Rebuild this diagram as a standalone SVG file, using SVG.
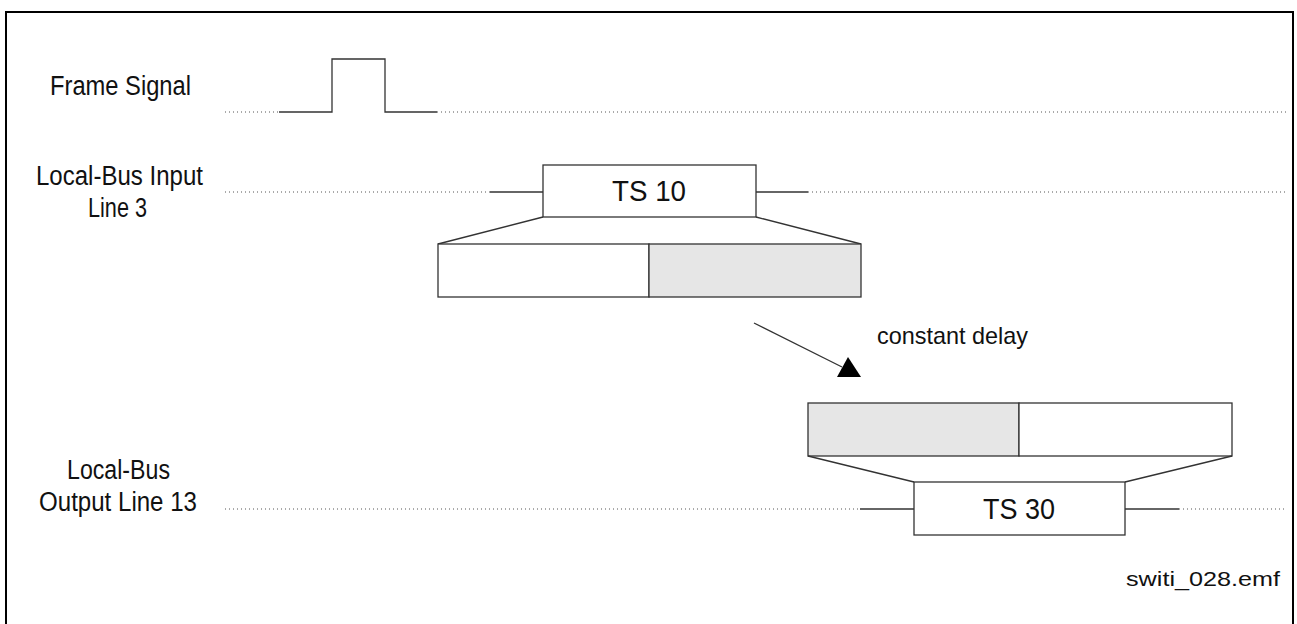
<svg xmlns="http://www.w3.org/2000/svg" width="1297" height="624" viewBox="0 0 1297 624">
<style>
text{font-family:"Liberation Sans",Arial,sans-serif;fill:#111;}
.lbl{font-size:27px;}
.ts{font-size:29px;}
.sm{font-size:24px;}
.fn{font-size:21px;}
.dot{stroke:#555;stroke-width:1;stroke-dasharray:1 3;fill:none;}
.sol{stroke:#333;stroke-width:1.3;fill:none;}
.box{stroke:#333;stroke-width:1.3;fill:#fff;}
.gray{stroke:#333;stroke-width:1.3;fill:#e6e6e6;}
</style>
<rect x="6" y="12" width="1287" height="700" fill="#fff" stroke="#000" stroke-width="2"/>
<g id="labels">
<text class="lbl" x="50" y="95" textLength="141" lengthAdjust="spacingAndGlyphs">Frame Signal</text>
<text class="lbl" x="36" y="185" textLength="167" lengthAdjust="spacingAndGlyphs">Local-Bus Input</text>
<text class="lbl" x="88" y="217" textLength="59" lengthAdjust="spacingAndGlyphs">Line 3</text>
<text class="lbl" x="67" y="479" textLength="103" lengthAdjust="spacingAndGlyphs">Local-Bus</text>
<text class="lbl" x="39" y="511" textLength="158" lengthAdjust="spacingAndGlyphs">Output Line 13</text>
<text class="sm" x="877" y="344" textLength="151" lengthAdjust="spacingAndGlyphs">constant delay</text>
<text class="fn" x="1126" y="586" textLength="154" lengthAdjust="spacingAndGlyphs">switi_028.emf</text>
</g>
<g id="frame-signal">
<line class="dot" x1="225" y1="112" x2="279" y2="112"/>
<path class="sol" d="M279,112 H332 V59 H385 V112 H437"/>
<line class="dot" x1="437" y1="112" x2="1287" y2="112"/>
</g>
<g id="input-line">
<line class="dot" x1="225" y1="192" x2="490" y2="192"/>
<line class="sol" x1="490" y1="192" x2="543" y2="192"/>
<line class="sol" x1="756" y1="192" x2="808" y2="192"/>
<line class="dot" x1="808" y1="192" x2="1287" y2="192"/>
</g>
<g id="ts10">
<rect class="box" x="543" y="165" width="213" height="52"/>
<text class="ts" x="649" y="201" text-anchor="middle" textLength="74" lengthAdjust="spacingAndGlyphs">TS 10</text>
</g>
<g id="ts10-expanded">
<path class="sol" d="M543,217 L438,244 M756,217 L861,244"/>
<rect class="box" x="438" y="244" width="211" height="53"/>
<rect class="gray" x="649" y="244" width="212" height="53"/>
</g>
<g id="connectors">
<line class="sol" x1="754" y1="323" x2="842" y2="367" stroke-width="1"/>
<polygon points="848,357 837,377 861,377" fill="#000"/>
</g>
<g id="ts30-expanded">
<rect class="gray" x="808" y="403" width="211" height="53"/>
<rect class="box" x="1019" y="403" width="213" height="53"/>
<path class="sol" d="M808,456 L914,482 M1232,456 L1125,482"/>
</g>
<g id="output-line">
<line class="dot" x1="225" y1="509" x2="860" y2="509"/>
<line class="sol" x1="860" y1="509" x2="914" y2="509"/>
<line class="sol" x1="1125" y1="509" x2="1179" y2="509"/>
<line class="dot" x1="1179" y1="509" x2="1284" y2="509"/>
</g>
<g id="ts30">
<rect class="box" x="914" y="482" width="211" height="53"/>
<text class="ts" x="1019" y="519" text-anchor="middle" textLength="72" lengthAdjust="spacingAndGlyphs">TS 30</text>
</g>
</svg>
